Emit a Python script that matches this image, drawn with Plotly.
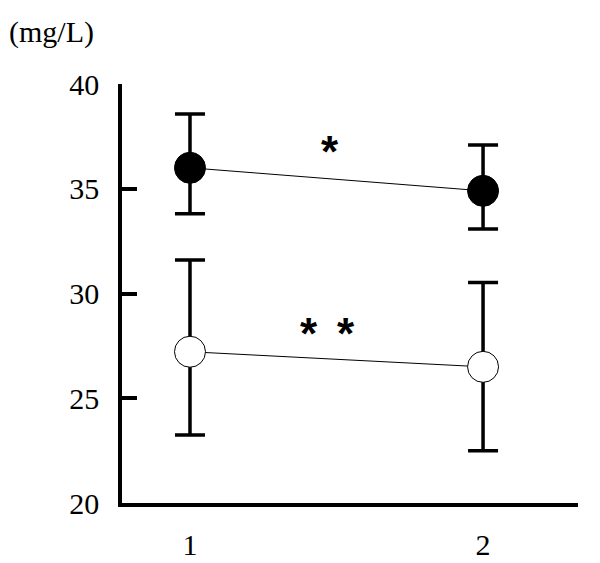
import plotly.graph_objects as go

# groups on the x axis
groups = [1, 2]

# filled circles
filled_mean = [36.0, 34.9]
filled_upper = [38.57, 37.09]
filled_lower = [33.81, 33.08]

# open circles
open_mean = [27.22, 26.5]
open_upper = [31.6, 30.52]
open_lower = [23.25, 22.5]

y_ticks = [20, 25, 30, 35, 40]

SERIF = "Liberation Serif, Times New Roman, serif"

fig = go.Figure()

for mean, up, lo, fill in [(filled_mean, filled_upper, filled_lower, "black"),
                           (open_mean, open_upper, open_lower, "white")]:
    fig.add_trace(go.Scatter(
        x=groups,
        y=mean,
        mode="lines+markers",
        line=dict(color="black", width=1),
        marker=dict(size=31, color=fill, line=dict(color="black", width=1)),
        error_y=dict(
            type="data",
            symmetric=False,
            array=[u - m for u, m in zip(up, mean)],
            arrayminus=[m - l for m, l in zip(mean, lo)],
            color="black",
            thickness=3.5,
            width=15,
        ),
        showlegend=False,
        hoverinfo="skip",
    ))

# significance marks
star_font = dict(family="Liberation Sans, Arial", size=44, color="black")
for sx, sy in [(1.478, 36.8), (1.406, 28.1), (1.532, 28.1)]:
    fig.add_annotation(x=sx, y=sy, text="<b>*</b>", showarrow=False,
                       font=star_font, xanchor="center", yanchor="middle")

# unit label
fig.add_annotation(x=-0.253, y=1.125, xref="paper", yref="paper", text="(mg/L)",
                   showarrow=False, xanchor="left", yanchor="middle",
                   font=dict(family=SERIF, size=30, color="black"))

fig.update_layout(
    width=600,
    height=563,
    margin=dict(l=114, r=30, t=76, b=68),
    plot_bgcolor="white",
    paper_bgcolor="white",
    font=dict(family=SERIF, size=30, color="black"),
    xaxis=dict(
        range=[0.768, 2.324],
        tickvals=groups,
        ticktext=[str(g) for g in groups],
        showgrid=False,
        zeroline=False,
        showline=True,
        linecolor="black",
        linewidth=3.5,
        ticks="",
        ticklabelstandoff=12,
        automargin=False,
    ),
    yaxis=dict(
        range=[20, 40],
        tickvals=y_ticks,
        showgrid=False,
        zeroline=False,
        showline=True,
        linecolor="black",
        linewidth=3.5,
        ticks="inside",
        ticklen=15,
        tickwidth=3.5,
        tickcolor="black",
        ticklabelstandoff=13,
        automargin=False,
    ),
)

fig.write_html("out.html")
